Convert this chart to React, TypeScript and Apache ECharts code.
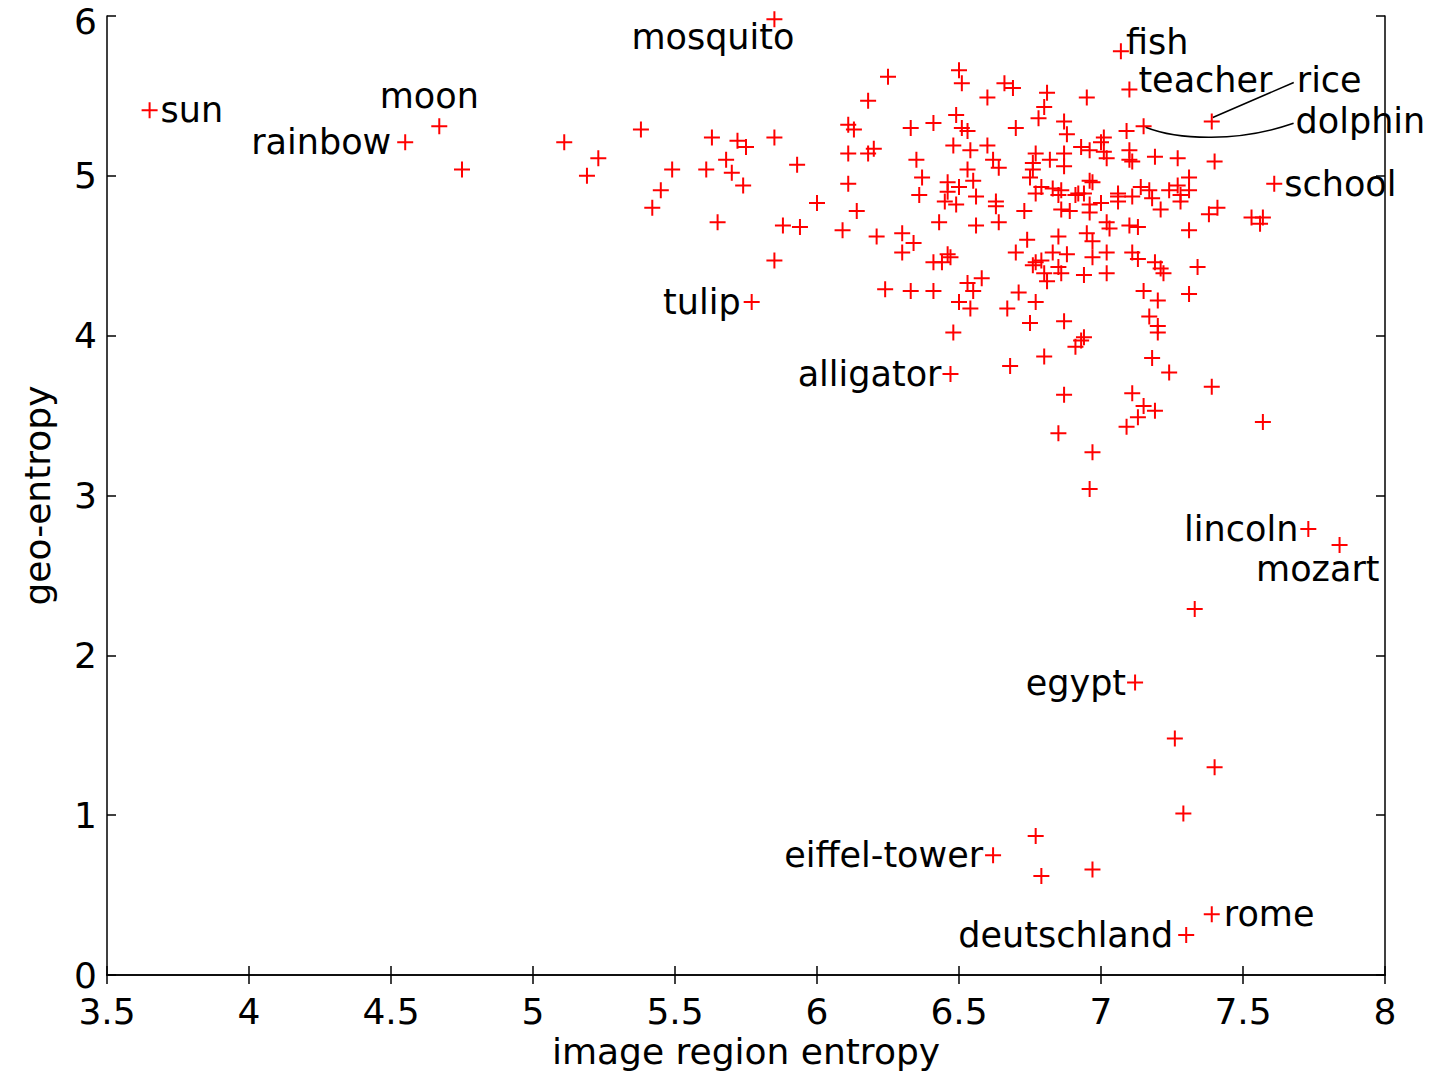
import React, { useEffect, useRef } from "react";
import * as echarts from "echarts";

// ---- data ----
const xTicks = [3.5, 4, 4.5, 5, 5.5, 6, 6.5, 7, 7.5, 8];
const yTicks = [0, 1, 2, 3, 4, 5, 6];

const labelNames = [
  "sun", "rainbow", "moon", "mosquito", "tulip", "alligator", "fish", "teacher",
  "rice", "dolphin", "school", "lincoln", "mozart", "egypt", "eiffel-tower", "rome", "deutschland",
];
const labelX = [3.65, 4.55, 4.67, 5.85, 5.77, 6.47, 7.07, 7.10, 7.39, 7.15, 7.61, 7.73, 7.84, 7.12, 6.62, 7.39, 7.30];
const labelY = [5.41, 5.21, 5.31, 5.98, 4.21, 3.76, 5.78, 5.54, 5.34, 5.31, 4.95, 2.79, 2.69, 1.83, 0.75, 0.38, 0.25];

const pointX = [
  4.75, 5.11, 5.23, 5.19, 5.38, 5.49, 5.45, 5.42, 5.63, 5.72, 5.75, 5.68, 5.61, 5.70, 5.74, 5.85, 5.93, 6.00, 5.88, 5.94,
  5.65, 5.85, 6.18, 6.11, 6.13, 6.11, 6.18, 6.20, 6.11, 6.14, 6.09, 6.21, 6.25, 6.33, 6.41, 6.49, 6.50, 6.51, 6.66, 6.69,
  6.60, 6.81, 6.95, 6.80, 6.78, 6.70, 6.87, 6.51, 6.53, 6.88, 7.01, 7.00, 7.09, 6.48, 6.54, 6.60, 6.35, 6.53, 6.55, 6.62,
  6.64, 6.77, 6.76, 6.76, 6.75, 6.82, 6.87, 6.87, 6.93, 6.96, 7.01, 7.02, 7.10, 7.10, 7.11, 6.79, 6.83, 6.86, 6.92, 6.96,
  6.97, 7.06, 6.37, 6.46, 6.50, 6.46, 6.36, 6.56, 6.63, 6.63, 6.45, 6.49, 6.73, 6.64, 6.43, 6.56, 6.30, 6.34, 6.74, 6.85,
  6.70, 6.30, 6.46, 6.44, 6.41, 6.47, 6.24, 6.33, 6.41, 6.53, 6.58, 6.55, 6.50, 6.54, 6.48, 6.83, 6.88, 6.76, 6.79, 6.85,
  6.86, 6.80, 6.81, 6.71, 6.77, 6.67, 6.75, 6.87, 6.80, 6.68, 6.87, 6.85, 6.91, 6.93, 6.94, 6.97, 6.96, 6.77, 6.85, 6.91,
  6.94, 7.06, 7.11, 6.86, 6.89, 6.96, 7.00, 7.06, 6.96, 7.02, 7.03, 7.10, 7.13, 6.95, 6.97, 7.02, 7.11, 6.77, 6.94, 7.02,
  6.97, 7.31, 7.56, 7.13, 7.19, 7.21, 7.22, 7.34, 7.15, 7.20, 7.31, 7.17, 7.20, 7.20, 7.18, 7.24, 7.39, 7.11, 7.15, 7.19,
  7.13, 7.09, 7.57, 7.19, 7.27, 7.40, 7.31, 7.27, 7.14, 7.17, 7.24, 7.31, 7.18, 7.28, 7.28, 7.21, 7.41, 7.38, 7.53, 7.57,
  7.33, 7.26, 7.40, 7.29, 6.77, 6.79, 6.97,
];
const pointY = [
  5.04, 5.21, 5.11, 5.00, 5.29, 5.04, 4.91, 4.80, 5.24, 5.22, 5.18, 5.10, 5.04, 5.02, 4.94, 5.24, 5.07, 4.83, 4.69, 4.68,
  4.71, 4.47, 5.47, 5.32, 5.29, 5.14, 5.14, 5.17, 4.95, 4.78, 4.66, 4.62, 5.62, 5.30, 5.33, 5.38, 5.66, 5.58, 5.58, 5.55,
  5.49, 5.52, 5.49, 5.43, 5.36, 5.30, 5.34, 5.30, 5.28, 5.26, 5.24, 5.21, 5.28, 5.19, 5.16, 5.19, 5.10, 5.04, 4.97, 5.10,
  5.05, 5.14, 5.08, 5.04, 4.99, 5.10, 5.14, 5.06, 5.18, 5.16, 5.15, 5.11, 5.16, 5.10, 5.09, 4.93, 4.92, 4.91, 4.89, 4.97,
  4.96, 4.89, 4.99, 4.96, 4.93, 4.90, 4.88, 4.87, 4.84, 4.81, 4.84, 4.82, 4.78, 4.71, 4.71, 4.69, 4.64, 4.58, 4.60, 4.62,
  4.52, 4.52, 4.51, 4.46, 4.46, 4.49, 4.29, 4.28, 4.28, 4.33, 4.36, 4.28, 4.21, 4.17, 4.02, 4.52, 4.51, 4.44, 4.47, 4.43,
  4.39, 4.39, 4.34, 4.27, 4.21, 4.17, 4.08, 4.09, 3.87, 3.81, 3.63, 3.39, 3.93, 3.97, 3.99, 3.27, 3.04, 4.89, 4.88, 4.88,
  4.89, 4.87, 4.87, 4.79, 4.78, 4.82, 4.83, 4.84, 4.77, 4.71, 4.67, 4.69, 4.68, 4.64, 4.59, 4.52, 4.52, 4.46, 4.38, 4.39,
  4.49, 4.66, 4.70, 4.48, 4.46, 4.42, 4.39, 4.43, 4.28, 4.22, 4.26, 4.12, 4.06, 4.02, 3.86, 3.77, 3.68, 3.64, 3.56, 3.53,
  3.49, 3.43, 3.46, 5.12, 5.11, 5.09, 4.99, 4.94, 4.93, 4.91, 4.91, 4.91, 4.86, 4.88, 4.84, 4.79, 4.80, 4.76, 4.74, 4.74,
  2.29, 1.48, 1.30, 1.01, 0.87, 0.62, 0.66,
];

// ---- styling (label placement) ----
type LabelCfg = { position: any; align?: string; distance?: number };
const labelCfg: Record<string, LabelCfg> = {
  sun: { position: "right", distance: 3 },
  rainbow: { position: "left", distance: 6 },
  moon: { position: [8 - 10, 8 - 30], align: "center" },
  mosquito: { position: [8 + 20, 8 + 18], align: "right" },
  tulip: { position: "left", distance: 3 },
  alligator: { position: "left", distance: 1 },
  fish: { position: [8 + 5, 8 - 9], align: "left" },
  teacher: { position: [8 + 9, 8 - 10], align: "left" },
  rice: { position: [8 + 85, 8 - 41], align: "left" },
  dolphin: { position: [8 + 152, 8 - 5], align: "left" },
  school: { position: "right", distance: 2 },
  lincoln: { position: "left", distance: 2 },
  mozart: { position: [8 + 40, 8 + 24], align: "right" },
  egypt: { position: "left", distance: 1 },
  "eiffel-tower": { position: "left", distance: 2 },
  rome: { position: "right", distance: 4 },
  deutschland: { position: "left", distance: 5 },
};

const FONT = "DejaVu Sans";
const PLUS = "path://M7,0H9V7H16V9H9V16H7V9H0V7H7Z";

export default function App() {
  const ref = useRef<HTMLDivElement>(null);

  useEffect(() => {
    document.body.style.margin = "0";
    const chart = echarts.init(ref.current!, undefined, { renderer: "svg" });

    const plainData = pointX.map((x, i) => [x, pointY[i]]);
    const labeledData = labelNames.map((name, i) => {
      const cfg = labelCfg[name];
      const label: any = {
        show: true,
        formatter: name,
        position: cfg.position,
        color: "#000",
        opacity: 1,
        fontSize: 35,
        fontFamily: FONT,
      };
      if (cfg.distance !== undefined) label.distance = cfg.distance;
      if (cfg.align) {
        label.align = cfg.align;
        label.verticalAlign = "middle";
      }
      return { name, value: [labelX[i], labelY[i]], label };
    });

    const axisLine = { show: true, lineStyle: { color: "#000", width: 1.5 } };
    const axisTick = { show: true, inside: true, length: 9, lineStyle: { color: "#000", width: 1.5 } };
    const tickText = { color: "#000", fontSize: 36, fontFamily: FONT };

    chart.setOption({
      animation: false,
      backgroundColor: "#fff",
      grid: { left: 107, right: 48, top: 16, bottom: 100, containLabel: false },
      xAxis: [
        {
          type: "value",
          min: xTicks[0],
          max: xTicks[xTicks.length - 1],
          interval: 0.5,
          position: "bottom",
          axisLine,
          axisTick,
          splitLine: { show: false },
          axisLabel: { ...tickText, margin: 18, formatter: (v: number) => String(v) },
          name: "image region entropy",
          nameLocation: "middle",
          nameGap: 58,
          nameTextStyle: { color: "#000", fontSize: 36, fontFamily: FONT },
        },
        {
          type: "value",
          min: xTicks[0],
          max: xTicks[xTicks.length - 1],
          interval: 0.5,
          position: "top",
          axisLine,
          axisTick,
          splitLine: { show: false },
          axisLabel: { show: false },
        },
      ],
      yAxis: [
        {
          type: "value",
          min: yTicks[0],
          max: yTicks[yTicks.length - 1],
          interval: 1,
          position: "left",
          axisLine,
          axisTick,
          splitLine: { show: false },
          axisLabel: {
            ...tickText,
            margin: 10,
            formatter: (v: number) => (v === yTicks[yTicks.length - 1] ? "{top|" + v + "}" : String(v)),
            rich: { top: { color: "#000", fontSize: 36, fontFamily: FONT, padding: [10, 0, 0, 0] } },
          },
          name: "geo-entropy",
          nameLocation: "middle",
          nameGap: 52,
          nameTextStyle: { color: "#000", fontSize: 36, fontFamily: FONT },
        },
        {
          type: "value",
          min: yTicks[0],
          max: yTicks[yTicks.length - 1],
          interval: 1,
          position: "right",
          axisLine,
          axisTick,
          splitLine: { show: false },
          axisLabel: { show: false },
        },
      ],
      series: [
        {
          type: "scatter",
          data: plainData,
          symbol: PLUS,
          symbolSize: 16,
          itemStyle: { color: "#ff0000", opacity: 1 },
          silent: true,
        },
        {
          type: "scatter",
          data: labeledData,
          symbol: PLUS,
          symbolSize: 16,
          itemStyle: { color: "#ff0000", opacity: 1 },
          silent: true,
          labelLayout: { hideOverlap: false },
        },
      ],
    });

    // leader lines for "rice" and "dolphin"
    const riceIdx = labelNames.indexOf("rice");
    const dolIdx = labelNames.indexOf("dolphin");
    const pr = chart.convertToPixel({ seriesIndex: 1 }, [labelX[riceIdx], labelY[riceIdx]]) as number[];
    const pd = chart.convertToPixel({ seriesIndex: 1 }, [labelX[dolIdx], labelY[dolIdx]]) as number[];
    chart.setOption({
      graphic: [
        {
          type: "line",
          shape: { x1: pr[0] + 1, y1: pr[1] - 4, x2: pr[0] + 82, y2: pr[1] - 39 },
          style: { stroke: "#000", lineWidth: 1.5 },
          silent: true,
        },
        {
          type: "bezierCurve",
          shape: {
            x1: pd[0] + 2,
            y1: pd[1] + 1,
            cpx1: pd[0] + 35,
            cpy1: pd[1] + 14,
            cpx2: pd[0] + 95,
            cpy2: pd[1] + 16,
            x2: pd[0] + 150,
            y2: pd[1] - 3,
          },
          style: { stroke: "#000", lineWidth: 1.5, fill: null },
          silent: true,
        },
      ],
    });

    return () => chart.dispose();
  }, []);

  return <div ref={ref} style={{ width: 1433, height: 1075 }} />;
}
